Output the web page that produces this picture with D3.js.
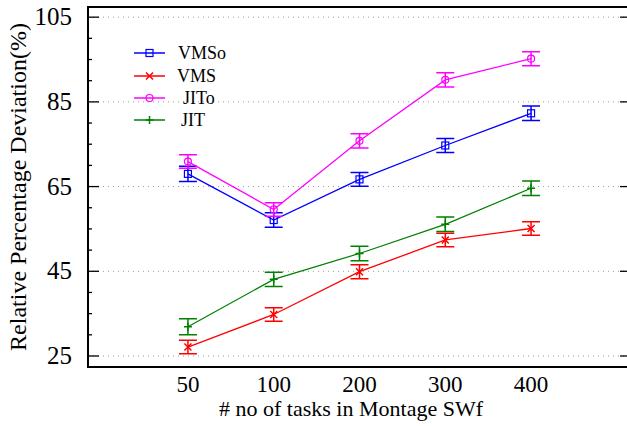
<!DOCTYPE html>
<html lang="en">
<head>
<meta charset="UTF-8">
<title>Relative Percentage Deviation</title>
<script src="https://d3js.org/d3.v7.min.js"></script>
<style>
    body { margin: 0; background: #fff; }
    svg text { font-family: "Times New Roman", "Liberation Serif", "DejaVu Serif", serif; }
</style>
</head>
<body>
<script>
    // data
    const taskCounts = ["50", "100", "200", "300", "400"];
    const seriesNames = ["VMSo", "VMS", "JITo", "JIT"];
    const seriesColors = ["#0000ff", "#ff0000", "#ff00ff", "#008000"];
    const seriesMarkers = ["square", "cross", "circle", "plus"];
    const vmsoValues = [68.0, 57.1, 66.7, 74.7, 82.3];
    const vmsValues = [27.1, 34.8, 44.9, 52.4, 55.1];
    const jitoValues = [70.9, 59.6, 75.8, 90.2, 95.2];
    const jitValues = [31.9, 43.1, 49.2, 56.1, 64.6];
    const vmsoErr = [1.8, 1.7, 1.65, 1.65, 1.7];
    const vmsErr = [1.6, 1.6, 1.65, 1.6, 1.6];
    const jitoErr = [1.6, 1.6, 1.7, 1.7, 1.65];
    const jitErr = [1.9, 1.7, 1.7, 1.7, 1.7];
    const yMajorTicks = [25, 45, 65, 85, 105];

    const allValues = [vmsoValues, vmsValues, jitoValues, jitValues];
    const allErrors = [vmsoErr, vmsErr, jitoErr, jitErr];

    const width = 627, height = 426;
    const plotLeft = 88, plotRight = 631, plotTop = 7, plotBottom = 367;

    const svg = d3.select("body").append("svg")
        .attr("width", width)
        .attr("height", height)
        .style("display", "block");

    const x = d3.scaleLinear().domain([-1.165, taskCounts.length - 1 + 1.165]).range([plotLeft, plotRight]);
    const y = d3.scaleLinear().domain([22.4, 107.4]).range([plotBottom, plotTop]);

    // dotted grid at major ticks
    svg.append("g")
        .selectAll("line")
        .data(yMajorTicks)
        .enter()
        .append("line")
        .attr("x1", plotLeft)
        .attr("x2", plotRight)
        .attr("y1", d => y(d))
        .attr("y2", d => y(d))
        .attr("stroke", "#999")
        .attr("stroke-width", 1)
        .attr("stroke-dasharray", "1,4");

    // ticks on left and right, pointing inward
    const minorTicks = d3.range(25, 106, 5);
    const tickG = svg.append("g").attr("stroke", "#000");
    minorTicks.forEach(v => {
        const len = yMajorTicks.includes(v) ? 11 : 4;
        tickG.append("line")
            .attr("x1", plotLeft).attr("x2", plotLeft + len)
            .attr("y1", y(v)).attr("y2", y(v))
            .attr("stroke-width", 1.3);
        tickG.append("line")
            .attr("x1", plotRight).attr("x2", plotRight - len)
            .attr("y1", y(v)).attr("y2", y(v))
            .attr("stroke-width", 1.3);
    });

    // frame
    svg.append("rect")
        .attr("x", plotLeft).attr("y", plotTop)
        .attr("width", plotRight - plotLeft).attr("height", plotBottom - plotTop)
        .attr("fill", "none")
        .attr("stroke", "#000")
        .attr("stroke-width", 2);

    // y tick labels
    svg.append("g")
        .selectAll("text")
        .data(yMajorTicks)
        .enter()
        .append("text")
        .attr("x", 72)
        .attr("y", d => y(d) + 8)
        .attr("text-anchor", "end")
        .attr("font-size", 25)
        .text(d => d);

    // x tick labels
    svg.append("g")
        .selectAll("text")
        .data(taskCounts)
        .enter()
        .append("text")
        .attr("x", (d, i) => x(i))
        .attr("y", 392)
        .attr("text-anchor", "middle")
        .attr("font-size", 23)
        .text(d => d);

    // axis titles
    svg.append("text")
        .attr("x", 351)
        .attr("y", 416)
        .attr("text-anchor", "middle")
        .attr("font-size", 22)
        .text("# no of tasks in Montage SWf");

    svg.append("text")
        .attr("transform", "translate(26,187) rotate(-90)")
        .attr("text-anchor", "middle")
        .attr("font-size", 24)
        .text("Relative Percentage Deviation(%)");

    function drawMarker(g, type, cx, cy, color) {
        const s = 3.5;
        if (type === "square") {
            g.append("rect")
                .attr("x", cx - s).attr("y", cy - s)
                .attr("width", 2 * s).attr("height", 2 * s)
                .attr("fill", "none").attr("stroke", color).attr("stroke-width", 1.2);
        } else if (type === "circle") {
            g.append("circle")
                .attr("cx", cx).attr("cy", cy).attr("r", s)
                .attr("fill", "none").attr("stroke", color).attr("stroke-width", 1.2);
        } else if (type === "cross") {
            g.append("path")
                .attr("d", `M${cx - s},${cy - s}L${cx + s},${cy + s}M${cx - s},${cy + s}L${cx + s},${cy - s}`)
                .attr("stroke", color).attr("stroke-width", 1.5);
        } else {
            g.append("path")
                .attr("d", `M${cx - s - 0.5},${cy}L${cx + s + 0.5},${cy}M${cx},${cy - s - 0.5}L${cx},${cy + s + 0.5}`)
                .attr("stroke", color).attr("stroke-width", 1.5);
        }
    }

    const line = d3.line()
        .x((d, i) => x(i))
        .y(d => y(d));

    seriesNames.forEach((name, k) => {
        const color = seriesColors[k];
        const vals = allValues[k];
        const errs = allErrors[k];
        const g = svg.append("g");

        g.append("path")
            .datum(vals)
            .attr("d", line)
            .attr("fill", "none")
            .attr("stroke", color)
            .attr("stroke-width", 1.3);

        vals.forEach((v, i) => {
            const cx = x(i);
            const y0 = y(v - errs[i]), y1 = y(v + errs[i]);
            g.append("path")
                .attr("d", `M${cx},${y0}L${cx},${y1}M${cx - 9},${y0}L${cx + 9},${y0}M${cx - 9},${y1}L${cx + 9},${y1}`)
                .attr("fill", "none")
                .attr("stroke", color)
                .attr("stroke-width", 1.5);
            drawMarker(g, seriesMarkers[k], cx, y(v), color);
        });
    });

    // legend
    const legendY = [53, 76, 98, 120];
    const legendTextX = [178, 177, 183, 181];
    seriesNames.forEach((name, k) => {
        const g = svg.append("g");
        g.append("line")
            .attr("x1", 134).attr("x2", 165)
            .attr("y1", legendY[k]).attr("y2", legendY[k])
            .attr("stroke", seriesColors[k])
            .attr("stroke-width", 1.5);
        drawMarker(g, seriesMarkers[k], 149.5, legendY[k], seriesColors[k]);
        g.append("text")
            .attr("x", legendTextX[k])
            .attr("y", legendY[k] + 6)
            .attr("font-size", 18)
            .text(name);
    });
</script>
</body>
</html>
